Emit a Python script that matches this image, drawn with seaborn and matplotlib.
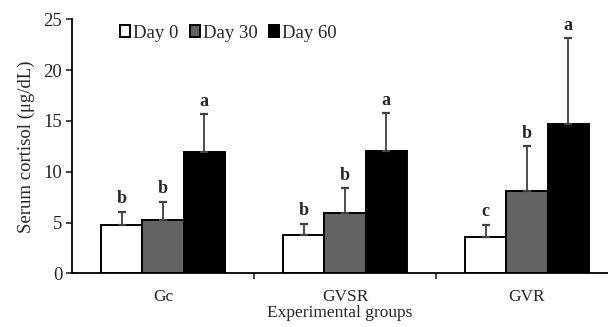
import seaborn as sns
import pandas as pd
import matplotlib.pyplot as plt

groups = ['Gc', 'GVSR', 'GVR']
days = ['Day 0', 'Day 30', 'Day 60']
day0 = [4.8, 3.75, 3.6]
day30 = [5.2, 5.95, 8.1]
day60 = [11.9, 12.05, 14.65]
err0 = [1.25, 1.15, 1.2]
err30 = [1.85, 2.4, 4.4]
err60 = [3.75, 3.7, 8.5]
letters0 = ['b', 'b', 'c']
letters30 = ['b', 'b', 'b']
letters60 = ['a', 'a', 'a']

rows = []
for d, vals, errs, labs in zip(days, [day0, day30, day60], [err0, err30, err60],
                               [letters0, letters30, letters60]):
    for g, v, e, l in zip(groups, vals, errs, labs):
        rows.append({'Group': g, 'Day': d, 'value': v, 'err': e, 'letter': l})
df = pd.DataFrame(rows)

sns.set_style('ticks')
plt.rcParams['font.family'] = ['Liberation Serif', 'DejaVu Serif']

fig = plt.figure(figsize=(6.08, 3.27), dpi=100)
ax = fig.add_axes([72 / 608, (327 - 273.3) / 327, (608 - 72) / 608, 254 / 327])

palette = {'Day 0': 'white', 'Day 30': '#636363', 'Day 60': 'black'}
sns.barplot(data=df, x='Group', y='value', hue='Day', order=groups, hue_order=days,
            palette=palette, edgecolor='black', linewidth=1.4, width=0.68,
            errorbar=None, ax=ax, legend=True)

# error bars and significance letters from the bar patches
bars = [p for p in ax.patches if p.get_height() > 0]
for p, (_, r) in zip(bars, df.iterrows()):
    x = p.get_x() + p.get_width() / 2
    top = p.get_height()
    ax.errorbar(x, top, yerr=[[0], [r['err']]], fmt='none', ecolor='#404040',
                elinewidth=1.3, capsize=3, capthick=1.6, zorder=1)
    ax.text(x, top + r['err'] + 0.45, r['letter'], ha='center', va='bottom',
            fontsize=13, fontweight='bold')

ax.set_ylim(0, 25)
ax.set_xlim(-0.5, 2.445)
ax.set_yticks([0, 5, 10, 15, 20, 25])
ax.set_xticks([0.5, 1.5], minor=True)
ax.tick_params(axis='x', which='major', length=0, pad=11, labelsize=12.5)
ax.tick_params(axis='x', which='minor', length=4, direction='out', width=1.2)
ax.tick_params(axis='y', length=4, width=1.2, labelsize=13.5, pad=3)
for s in ['left', 'bottom']:
    ax.spines[s].set_linewidth(1.3)
    ax.spines[s].set_color('black')
sns.despine(ax=ax)
ax.set_xlabel('Experimental groups', fontsize=12.5, labelpad=0)
ax.set_ylabel('Serum cortisol (μg/dL)', fontsize=13.5, labelpad=6)

ax.legend(loc='upper left', bbox_to_anchor=(0.058, 1.045), ncol=3, frameon=False,
          handlelength=0.55, handleheight=0.55, handletextpad=0.15,
          columnspacing=0.6, fontsize=13.5)

fig.savefig('out.png', dpi=100)
